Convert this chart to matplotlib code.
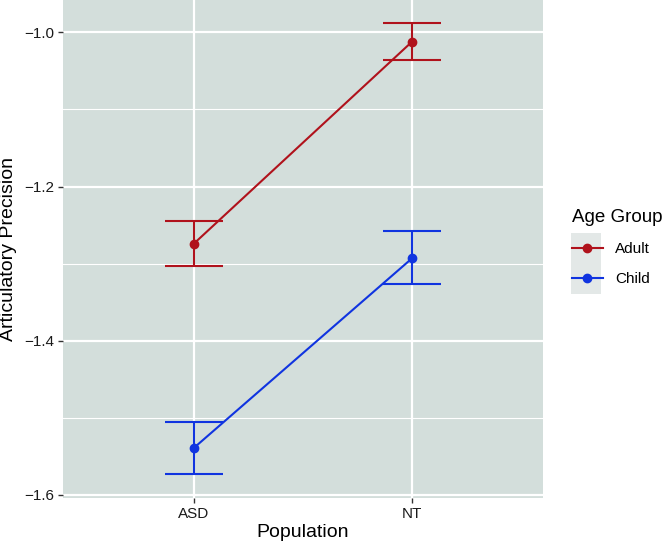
import numpy as np
import matplotlib.pyplot as plt
from matplotlib.lines import Line2D
from matplotlib.patches import Rectangle

plt.rcParams['font.family'] = ['Liberation Sans', 'DejaVu Sans']

# data
populations = ["ASD", "NT"]
groups = ["Adult", "Child"]
colors = {"Adult": "#b0121c", "Child": "#1034e0"}
means = {"Adult": [-1.274, -1.012], "Child": [-1.539, -1.293]}
lower = {"Adult": [-1.303, -1.036], "Child": [-1.573, -1.327]}
upper = {"Adult": [-1.245, -0.988], "Child": [-1.505, -1.258]}
yticks = [-1.6, -1.4, -1.2, -1.0]
yminor = [-1.5, -1.3, -1.1]

fig = plt.figure(figsize=(6.64, 5.46), dpi=100)
ax = fig.add_axes([63 / 664, 1 - 498 / 546, 480 / 664, 498 / 546])
ax.set_facecolor("#d3dedb")

x = np.arange(1, len(populations) + 1)

# grid lines (ggplot style)
for yv in yminor:
    ax.axhline(yv, color="white", lw=0.8, zorder=0)
for yv in yticks:
    ax.axhline(yv, color="white", lw=1.6, zorder=0)
for xv in x:
    ax.axvline(xv, color="white", lw=1.6, zorder=0)

for g in groups:
    m = np.array(means[g])
    lo = m - np.array(lower[g])
    hi = np.array(upper[g]) - m
    ax.plot(x, m, color=colors[g], lw=1.5, zorder=2)
    ax.errorbar(x, m, yerr=[lo, hi], fmt="none", ecolor=colors[g],
                elinewidth=1.5, capsize=21, capthick=1.5, zorder=3)
    ax.plot(x, m, "o", color=colors[g], ms=6, zorder=4)

ax.set_xlim(0.4, 2.6)
ax.set_ylim(-1.604, -0.958)
ax.set_xticks(x)
ax.set_xticklabels(populations)
ax.set_yticks(yticks)
ax.set_yticklabels([f"\u2212{abs(v):.1f}" for v in yticks])
ax.tick_params(axis="both", length=3.5, width=1, color="#333333",
               labelsize=11, labelcolor="#1a1a1a", pad=3)
for s in ax.spines.values():
    s.set_visible(False)

ax.set_xlabel("Population", fontsize=14, labelpad=2)
ax.set_ylabel("Articulatory Precision", fontsize=14, labelpad=5)

# legend
fig.patches.append(Rectangle((571 / 664, 1 - 294 / 546), 30 / 664, 61 / 546,
                             transform=fig.transFigure, facecolor="#e3e8e7",
                             edgecolor="none", zorder=0))
handles = [Line2D([0], [0], color=colors[g], lw=1.5, marker="o", ms=6) for g in groups]
leg = fig.legend(handles, groups, title="Age Group", loc="upper left",
                 bbox_to_anchor=(566 / 664, 1 - 203 / 546), frameon=False,
                 fontsize=11, title_fontsize=13.5, handlelength=2.0,
                 handletextpad=0.8, labelspacing=1.05, borderaxespad=0)
leg._legend_box.align = "left"

fig.savefig("out.png", dpi=100)
